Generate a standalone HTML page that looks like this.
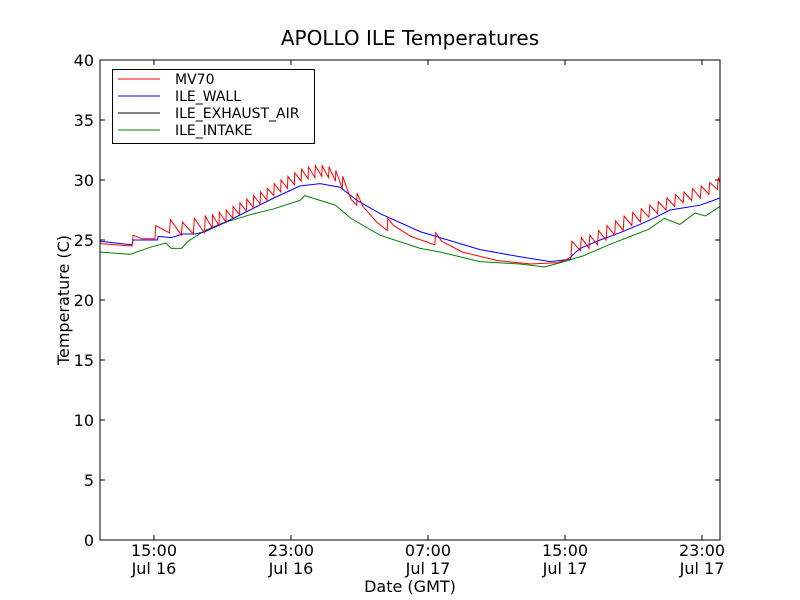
<!DOCTYPE html>
<html><head><meta charset="utf-8"><style>
body{margin:0;background:#fff;}
svg{display:block;font-family:"DejaVu Sans","Liberation Sans",sans-serif;}
</style></head><body>
<svg id="chart" width="800" height="600" xmlns="http://www.w3.org/2000/svg">
<rect width="800" height="600" fill="#fff"/>
<text x="410" y="45" font-size="20" text-anchor="middle">APOLLO ILE Temperatures</text>
<text x="410" y="592" font-size="16" text-anchor="middle">Date (GMT)</text>
<text transform="translate(69,300) rotate(-90)" font-size="16" text-anchor="middle">Temperature (C)</text>
<g id="plot"></g>
<rect x="100" y="60" width="620" height="480" fill="none" stroke="#000" stroke-width="1"/>
<g>
<rect x="112.5" y="69.5" width="202" height="74" fill="#fff" stroke="#000"/>
<line x1="118" y1="79" x2="160" y2="79" stroke="red"/><text x="175" y="84" font-size="14">MV70</text>
<line x1="118" y1="96" x2="160" y2="96" stroke="blue"/><text x="175" y="101" font-size="14">ILE_WALL</text>
<line x1="118" y1="113" x2="160" y2="113" stroke="black"/><text x="175" y="118" font-size="14">ILE_EXHAUST_AIR</text>
<line x1="118" y1="130" x2="160" y2="130" stroke="green"/><text x="175" y="135" font-size="14">ILE_INTAKE</text>
</g>
</svg>
<script>
const yTicks=[0,5,10,15,20,25,30,35,40];
const xTickHours=[15,23,31,39,47];
const xTickTimes=["15:00","23:00","07:00","15:00","23:00"];
const xTickDates=["Jul 16","Jul 16","Jul 17","Jul 17","Jul 17"];
const mv70Times=[11.85,13.72,13.78,14.3,15.06,15.1,15.9,15.96,16.6,16.66,17.3,17.36,17.95,18.0,18.4,18.42,18.8,18.82,19.2,19.22,19.6,19.62,20.0,20.02,20.4,20.42,20.8,20.82,21.2,21.22,21.6,21.62,22.0,22.02,22.4,22.42,22.8,22.82,23.2,23.22,23.6,23.62,24.0,24.02,24.4,24.42,24.8,24.82,25.2,25.22,25.6,25.62,26.0,26.02,26.5,26.84,26.86,27.2,28.0,28.62,28.65,29.0,30.0,31.4,31.45,31.8,33.0,35.0,37.0,38.5,39.0,39.35,39.4,39.9,39.95,40.4,40.45,40.9,40.95,41.4,41.45,41.9,41.95,42.4,42.45,42.9,42.95,43.4,43.45,43.9,43.95,44.4,44.45,44.9,44.95,45.4,45.45,45.9,45.95,46.4,46.45,46.9,46.95,47.4,47.45,47.9,47.95,48.05];
const mv70Temps=[24.7,24.5,25.4,25.1,25.1,26.2,25.6,26.7,25.4,26.5,25.5,26.8,25.6,27.0,26.0,27.1,26.2,27.3,26.5,27.5,26.8,27.8,27.1,28.1,27.4,28.4,27.7,28.7,28.0,29.0,28.3,29.3,28.7,29.7,29.0,30.0,29.3,30.3,29.6,30.6,29.9,30.9,30.1,31.1,30.2,31.2,30.3,31.2,30.2,31.1,29.9,30.8,29.3,30.3,28.4,27.9,28.9,27.8,26.5,25.8,26.8,26.2,25.3,24.6,25.6,24.9,24.0,23.3,23.0,23.1,23.3,23.6,24.9,24.1,25.2,24.3,25.4,24.6,25.8,25.0,26.2,25.4,26.6,25.8,27.0,26.2,27.3,26.5,27.6,26.9,27.9,27.2,28.2,27.5,28.5,27.8,28.8,28.1,29.0,28.3,29.3,28.5,29.5,28.8,29.8,29.2,30.2,29.8];
const wallTimes=[11.85,13.72,13.78,15.2,15.24,16.0,16.7,17.4,17.98,19.2,20.61,22.0,23.53,24.7,25.86,26.86,28.2,30.54,31.7,34.04,36.38,38.13,39.3,39.4,39.88,41.05,42.2,43.38,44.3,45.13,46.0,46.89,48.05];
const wallTemps=[24.9,24.6,25.0,25.0,25.3,25.2,25.5,25.5,25.7,26.5,27.5,28.5,29.5,29.7,29.4,28.3,27.2,25.7,25.2,24.2,23.6,23.2,23.4,23.7,24.3,25.0,25.6,26.3,26.9,27.5,27.7,27.9,28.5];
const intakeTimes=[11.85,13.6,14.8,15.7,16.0,16.6,17.0,17.98,19.0,20.61,22.0,23.53,23.8,24.7,25.6,26.5,28.2,30.54,31.7,34.04,36.38,37.8,38.95,40.1,41.56,43.9,44.8,45.7,46.6,47.2,48.05];
const intakeTemps=[24.0,23.8,24.4,24.75,24.3,24.3,24.9,25.8,26.4,27.1,27.6,28.3,28.7,28.3,27.9,26.8,25.4,24.3,24.0,23.2,23.0,22.75,23.2,23.7,24.6,25.9,26.8,26.3,27.25,27.0,27.8];
const exhaustTimes=[11.85,48.05];
const exhaustTemps=[null,null];

const X0=100,X1=720,Y0=540,Y1=60,T0=11.85,T1=48.05,V0=0,V1=40;
const sx=t=>X0+(t-T0)/(T1-T0)*(X1-X0);
const sy=v=>Y0-(v-V0)/(V1-V0)*(Y0-Y1);
const NS="http://www.w3.org/2000/svg";
const g=document.getElementById('plot');
function mk(tag,attrs){const e=document.createElementNS(NS,tag);for(const k in attrs)e.setAttribute(k,attrs[k]);g.appendChild(e);return e;}
yTicks.forEach(v=>{
  const y=sy(v);
  const a=mk('line',{x1:X0,y1:y,x2:X0+5,y2:y,stroke:'#000'});
  
  
  const b=mk('line',{x1:X1-5,y1:y,x2:X1,y2:y,stroke:'#000'});
  
  
  const t=mk('text',{x:X0-6,y:y+6,'font-size':16,'text-anchor':'end'});
  t.textContent=v;
  
  
});
xTickHours.forEach((h,i)=>{
  const x=sx(h);
  const a=mk('line',{x1:x,y1:Y0,x2:x,y2:Y0-5,stroke:'#000'});
  
  
  const b=mk('line',{x1:x,y1:Y1,x2:x,y2:Y1+5,stroke:'#000'});
  
  
  const t1=mk('text',{x:x,y:556,'font-size':16,'text-anchor':'middle'});
  t1.textContent=xTickTimes[i];
  
  
  const t2=mk('text',{x:x,y:574,'font-size':16,'text-anchor':'middle'});
  t2.textContent=xTickDates[i];
  
  
});
function line(ts,vs,color,name){
  const pts=[];ts.forEach((t,i)=>{if(vs[i]!=null)pts.push(sx(t).toFixed(1)+','+sy(vs[i]).toFixed(1));});
  if(pts.length<2)return;
  const p=mk('polyline',{points:pts.join(' '),fill:'none',stroke:color,'stroke-width':1});
  
  
}
line(exhaustTimes,exhaustTemps,'black','series-ile-exhaust-air');
line(intakeTimes,intakeTemps,'green','series-ile-intake');
line(wallTimes,wallTemps,'blue','series-ile-wall');
line(mv70Times,mv70Temps,'red','series-mv70');
</script>
</body></html>
